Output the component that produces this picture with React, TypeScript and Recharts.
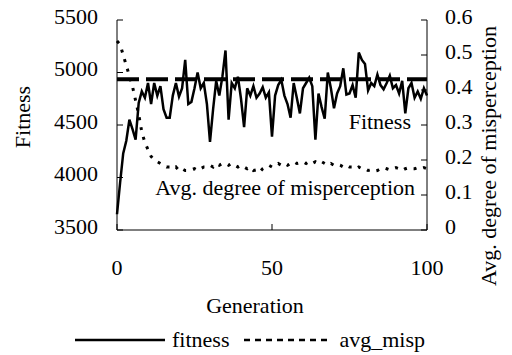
import {
  LineChart,
  Line,
  XAxis,
  YAxis,
  Legend,
  ReferenceLine,
  Label,
} from "recharts";

// fitness per generation (0..100)
const fitness = [
  3650, 3950, 4230, 4350, 4550, 4460, 4360, 4710, 4820, 4760,
  4900, 4700, 4900, 4780, 4870, 4650, 4570, 4570, 4780, 4900,
  4770, 4850, 5120, 4700, 4720, 4850, 5000, 4850, 4900, 4700,
  4340, 4650, 4920, 4780, 4960, 5210, 4550, 4900, 4850, 4960,
  4750, 4480, 4850, 4780, 4870, 4760, 4800, 4860, 4760, 4810,
  4390, 4780, 4880, 4930, 4780, 4700, 4570, 4900, 4760, 4610,
  4850, 4900, 4950, 4870, 4360, 4800, 4670, 4560, 5000, 4850,
  4660, 4800, 4870, 5040, 4790, 4800, 4880, 4760, 5190, 5120,
  5080, 4830, 4900, 4870, 4980, 4880, 4840, 4900, 4970, 4850,
  4880, 4800, 4920, 4610, 4850, 4900, 4760, 4820, 4750, 4850,
  4780,
];

// average degree of misperception per generation
const avgMisp = [
  0.54, 0.53, 0.5, 0.47, 0.44, 0.41, 0.37, 0.33, 0.28, 0.25,
  0.23, 0.21, 0.2, 0.195, 0.19, 0.185, 0.18, 0.18, 0.175, 0.18,
  0.17, 0.175, 0.17, 0.17, 0.172, 0.175, 0.17, 0.175, 0.18, 0.18,
  0.185, 0.18, 0.19, 0.185, 0.19, 0.19, 0.185, 0.19, 0.185, 0.18,
  0.185, 0.18, 0.175, 0.18, 0.17, 0.172, 0.165, 0.175, 0.18, 0.185,
  0.18, 0.185, 0.19, 0.185, 0.19, 0.185, 0.19, 0.195, 0.19, 0.192,
  0.195, 0.19, 0.195, 0.19, 0.195, 0.19, 0.195, 0.19, 0.185, 0.19,
  0.185, 0.188, 0.185, 0.18, 0.185, 0.18, 0.18, 0.175, 0.18, 0.175,
  0.175, 0.17, 0.172, 0.168, 0.17, 0.175, 0.178, 0.175, 0.172, 0.175,
  0.178, 0.175, 0.17, 0.175, 0.178, 0.175, 0.175, 0.178, 0.175, 0.178,
  0.175,
];

const optimum = 4935;

const genTicks = [0, 50, 100];
const fitnessTicks = [3500, 4000, 4500, 5000, 5500];
const mispTicks = [0, 0.1, 0.2, 0.3, 0.4, 0.5, 0.6];

const data = fitness.map((f, i) => ({
  gen: i,
  fitness: f,
  avg_misp: avgMisp[i],
}));

const FONT = '"Times New Roman", "Liberation Serif", Tinos, serif';
const txt = { fontFamily: FONT, fontSize: 22 };

// tick drawn as plain svg text so the serif font sticks
function Tick({ x, y, payload, textAnchor, dy = 0 }: any) {
  return (
    <text
      x={x}
      y={y + dy}
      textAnchor={textAnchor}
      dominantBaseline="central"
      fill="#000"
      style={txt}
    >
      {payload.value}
    </text>
  );
}

function LegendBox() {
  return (
    <div
      style={{
        ...txt,
        display: "flex",
        alignItems: "center",
        color: "#000",
        lineHeight: "24px",
      }}
    >
      <svg width={90} height={10}>
        <line x1={0} y1={5} x2={90} y2={5} stroke="#000" strokeWidth={2.5} />
      </svg>
      <span style={{ ...txt, marginLeft: 7, marginRight: 15 }}>fitness</span>
      <svg width={85} height={10}>
        <line
          x1={0}
          y1={5}
          x2={85}
          y2={5}
          stroke="#000"
          strokeWidth={2.5}
          strokeDasharray="6 5"
        />
      </svg>
      <span style={{ ...txt, marginLeft: 10 }}>avg_misp</span>
    </div>
  );
}

export default function App() {
  return (
    <div
      style={{
        ...txt,
        position: "absolute",
        left: 0,
        top: 0,
        width: 512,
        height: 355,
        background: "#fff",
      }}
    >
      <LineChart
        width={512}
        height={355}
        data={data}
        margin={{ top: 20, right: 0, bottom: 35, left: 0 }}
        style={txt}
      >
        <XAxis
          dataKey="gen"
          type="number"
          domain={[0, 100]}
          ticks={genTicks}
          stroke="#000"
          tickSize={-6}
          tickMargin={34}
          tick={<Tick dy={9} />}
          height={90}
        >
          <Label
            content={({ viewBox }: any) => (
              <text
                x={viewBox.x + 138}
                y={viewBox.y + 75}
                textAnchor="middle"
                dominantBaseline="central"
                fill="#000"
                style={txt}
              >
                Generation
              </text>
            )}
          />
        </XAxis>
        <YAxis
          yAxisId="left"
          domain={[3500, 5500]}
          ticks={fitnessTicks}
          stroke="#000"
          tickSize={-6}
          tickMargin={25}
          tick={<Tick dy={-4} />}
          width={117}
        >
          <Label
            content={({ viewBox }: any) => (
              <text
                x={22}
                y={viewBox.y + 97}
                transform={`rotate(-90 22 ${viewBox.y + 97})`}
                textAnchor="middle"
                dominantBaseline="central"
                fill="#000"
                style={txt}
              >
                Fitness
              </text>
            )}
          />
        </YAxis>
        <YAxis
          yAxisId="right"
          orientation="right"
          domain={[0, 0.6]}
          ticks={mispTicks}
          stroke="#000"
          tickSize={-6}
          tickMargin={24}
          tick={<Tick dy={-4} />}
          width={85}
        >
          <Label
            content={({ viewBox }: any) => {
              const cx = viewBox.x + 61;
              const cy = viewBox.y + 136;
              return (
                <text
                  x={cx}
                  y={cy}
                  transform={`rotate(-90 ${cx} ${cy})`}
                  textAnchor="middle"
                  dominantBaseline="central"
                  fill="#000"
                  style={txt}
                >
                  Avg. degree of misperception
                </text>
              );
            }}
          />
        </YAxis>
        <ReferenceLine
          yAxisId="left"
          y={optimum}
          stroke="#000"
          strokeWidth={4}
          strokeDasharray="22 7"
        />
        <Line
          yAxisId="left"
          dataKey="fitness"
          stroke="#000"
          strokeWidth={2.5}
          dot={false}
          type="linear"
          isAnimationActive={false}
        />
        <Line
          yAxisId="right"
          dataKey="avg_misp"
          stroke="#000"
          strokeWidth={3}
          strokeDasharray="3 7"
          dot={false}
          type="linear"
          isAnimationActive={false}
        />
        <text x={411} y={129} textAnchor="end" fill="#000" style={txt}>
          Fitness
        </text>
        <text x={415} y={195} textAnchor="end" fill="#000" style={txt}>
          Avg. degree of misperception
        </text>
        <Legend
          verticalAlign="middle"
          align="center"
          content={() => <LegendBox />}
          wrapperStyle={{ position: "absolute", left: 75, top: 328, width: 400 }}
        />
      </LineChart>
    </div>
  );
}
